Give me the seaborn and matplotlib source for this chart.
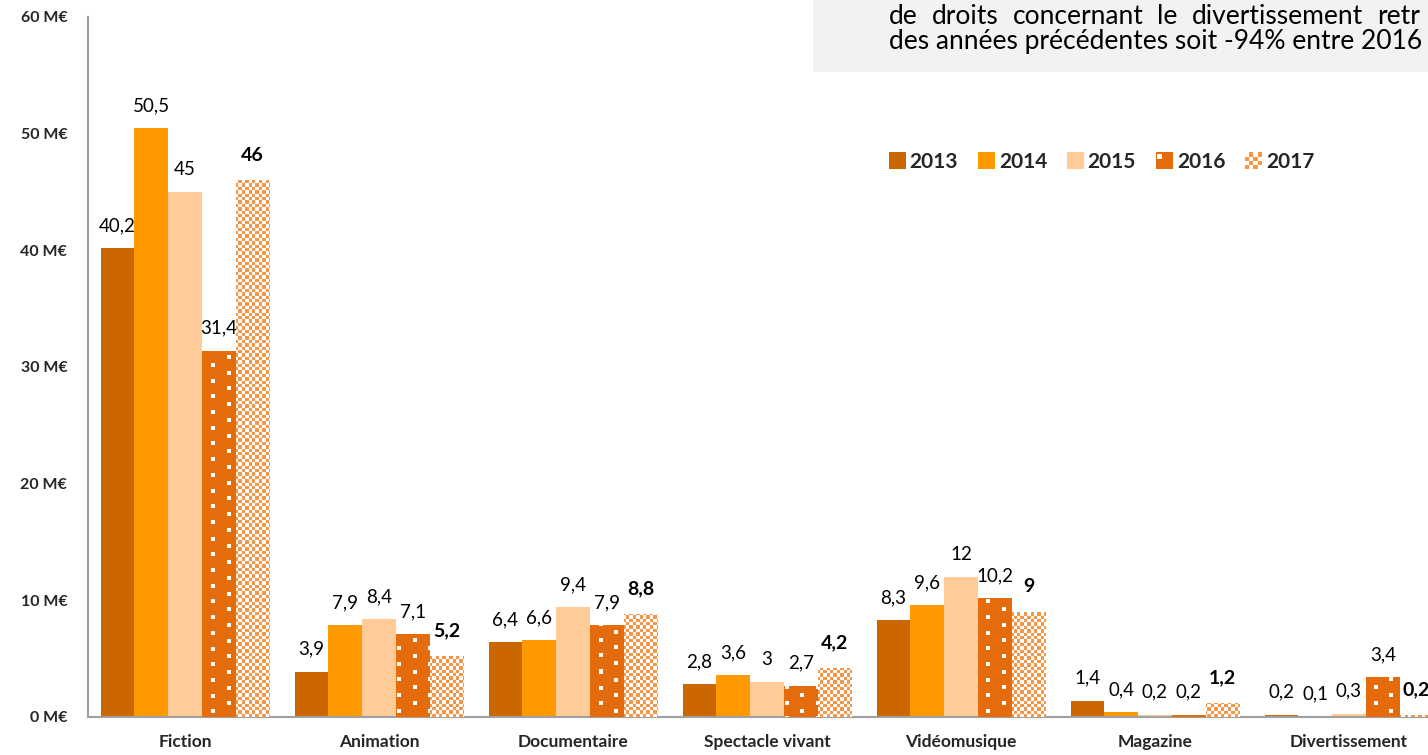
import numpy as np
import pandas as pd
import matplotlib
matplotlib.use("Agg")
import matplotlib.pyplot as plt
import seaborn as sns
from matplotlib.patches import Rectangle
from matplotlib.legend_handler import HandlerBase

categories = ["Fiction", "Animation", "Documentaire", "Spectacle vivant",
              "Vidéomusique", "Magazine", "Divertissement"]
years = ["2013", "2014", "2015", "2016", "2017"]
v2013 = [40.2, 3.9, 6.4, 2.8, 8.3, 1.4, 0.2]
v2014 = [50.5, 7.9, 6.6, 3.6, 9.6, 0.4, 0.1]
v2015 = [45.0, 8.4, 9.4, 3.0, 12.0, 0.2, 0.3]
v2016 = [31.4, 7.1, 7.9, 2.7, 10.2, 0.2, 3.4]
v2017 = [46.0, 5.2, 8.8, 4.2, 9.0, 1.2, 0.2]
yticks = [0, 10, 20, 30, 40, 50, 60]
ytick_labels = ["0 M€", "10 M€", "20 M€", "30 M€", "40 M€", "50 M€", "60 M€"]
note_line1 = "de droits concernant le divertissement retr"
note_line2 = "des années précédentes soit -94% entre 2016"

colors = {"2013": "#CC6600", "2014": "#FF9900", "2015": "#FFCC99",
          "2016": "#E46C0A", "2017": "#F79646"}

sns.set_style("white")
plt.rcParams["font.family"] = ["Lato", "DejaVu Sans"]

series = [v2013, v2014, v2015, v2016, v2017]
df = pd.DataFrame({
    "cat": np.repeat([categories], len(years), axis=0).ravel(),
    "year": np.repeat(years, len(categories)),
    "val": np.concatenate(series),
})

W, H = 1428, 755
fig = plt.figure(figsize=(W / 100, H / 100), dpi=100)
ax = fig.add_axes([88 / W, 38 / H, 1358 / W, 700 / H])
ax.patch.set_visible(False)

sns.barplot(data=df, x="cat", y="val", hue="year", hue_order=years,
            order=categories, palette=colors, saturation=1, width=0.87,
            gap=0, errorbar=None, linewidth=0, legend=False, ax=ax)

ax.set_xlim(-0.5, 6.5)
ax.set_ylim(0, 60)
ax.set_yticks(yticks)
ax.set_yticklabels(ytick_labels, fontsize=11.5, fontweight="bold")
ax.tick_params(axis="y", length=0, pad=15)
ax.tick_params(axis="x", length=0, pad=12, labelsize=12.5)
for lab in ax.get_xticklabels():
    lab.set_fontweight("bold")
ax.set_xlabel("")
ax.set_ylabel("")
for s in ["top", "right"]:
    ax.spines[s].set_visible(False)
for s in ["left", "bottom"]:
    ax.spines[s].set_color("#a0a0a0")
    ax.spines[s].set_linewidth(1.5)

# data labels
for i, cont in enumerate(ax.containers):
    labs = [f"{v:g}".replace(".", ",") for v in series[i]]
    bold = (i == 4)
    ax.bar_label(cont, labels=labs, padding=12 if bold else 10,
                 fontsize=14 if bold else 13.5,
                 fontweight="bold" if bold else "normal", color="#000000")

# patterns (2016 dots, 2017 checkerboard) drawn clipped to the bars
fig.canvas.draw()
orange16 = np.array(matplotlib.colors.to_rgb(colors["2016"]))
orange17 = np.array(matplotlib.colors.to_rgb(colors["2017"]))
white = np.array([1.0, 1.0, 1.0])


def bar_pixels(bar):
    x0, y0 = bar.get_x(), bar.get_y()
    x1, y1 = x0 + bar.get_width(), y0 + bar.get_height()
    (px0, py0), (px1, py1) = ax.transData.transform([(x0, y0), (x1, y1)])
    return x0, x1, y0, y1, px0, px1, py0, py1


for idx in (3, 4):
    for bar in ax.containers[idx]:
        x0, x1, y0, y1, px0, px1, py0, py1 = bar_pixels(bar)
        wpx = max(int(round(px1 - px0)), 1)
        hpx = max(int(round(py1 - py0)), 1)
        gx = px0 + np.arange(wpx) + 0.5
        gy = py1 - np.arange(hpx) - 0.5
        GX, GY = np.meshgrid(gx, gy)
        if idx == 3:
            k = np.floor((GX - 211) / 15.5)
            dx = (GX - 211) - k * 15.5
            dy = np.mod(GY - py0 - 4 - 7.85 * (k % 2), 15.7)
            mask = (dx < 4) & (dy < 4)
            img = np.where(mask[..., None], white, orange16)
        else:
            c = (np.floor(GX / 3.4) + np.floor(GY / 3.4)) % 2
            img = np.where((c == 0)[..., None], orange17, white)
        im = ax.imshow(img, extent=(x0, x1, y0, y1), aspect="auto",
                       interpolation="nearest", origin="upper", zorder=3)
        im.set_clip_path(bar)

ax.set_xlim(-0.5, 6.5)
ax.set_ylim(0, 60)


# legend
class CheckerHandler(HandlerBase):
    def create_artists(self, legend, orig_handle, xdescent, ydescent,
                       width, height, fontsize, trans):
        n = 4
        s = height * 1.15
        x0 = -xdescent + (width - s) / 2
        y0 = -ydescent + (height - s) / 2
        cell = s / n
        arts = []
        for i in range(n):
            for j in range(n):
                col = colors["2017"] if (i + j) % 2 == 0 else "white"
                arts.append(Rectangle((x0 + i * cell, y0 + j * cell), cell, cell,
                                      facecolor=col, edgecolor="none",
                                      transform=trans))
        return arts


class SquareHandler(HandlerBase):
    def __init__(self, color, dot=False):
        super().__init__()
        self.color = color
        self.dot = dot

    def create_artists(self, legend, orig_handle, xdescent, ydescent,
                       width, height, fontsize, trans):
        s = height * 1.15
        x0 = -xdescent + (width - s) / 2
        y0 = -ydescent + (height - s) / 2
        arts = [Rectangle((x0, y0), s, s, facecolor=self.color,
                          edgecolor="none", transform=trans)]
        if self.dot:
            d = s * 0.3
            arts.append(Rectangle((x0 + s * 0.08, y0 + s - d - s * 0.08), d, d,
                                  facecolor="white", edgecolor="none",
                                  transform=trans))
        return arts


handles = [Rectangle((0, 0), 1, 1) for _ in years]
hmap = {handles[0]: SquareHandler(colors["2013"]),
        handles[1]: SquareHandler(colors["2014"]),
        handles[2]: SquareHandler(colors["2015"]),
        handles[3]: SquareHandler(colors["2016"], dot=True),
        handles[4]: CheckerHandler()}
leg = fig.legend(handles, years, handler_map=hmap, loc="center left",
                 bbox_to_anchor=(891 / W, 1 - 162 / H), ncol=5, frameon=False,
                 handlelength=0.6, handleheight=0.7, handletextpad=0.3,
                 columnspacing=1.05, borderpad=0, borderaxespad=0,
                 prop={"weight": "bold", "size": 15})

# note box
fig.add_artist(Rectangle((813 / W, 1 - 72 / H), 1, 1, transform=fig.transFigure,
                         facecolor="#f2f2f2", edgecolor="none", zorder=0))
renderer = fig.canvas.get_renderer()
fs_note = 19
x = 889
for w in note_line1.split(" "):
    t = fig.text(x / W, 1 - 24 / H, w, fontsize=fs_note, va="baseline",
                 ha="left", color="#000000")
    bb = t.get_window_extent(renderer)
    x = bb.x1 + 14
fig.text(889 / W, 1 - 49 / H, note_line2, fontsize=fs_note, va="baseline",
         ha="left", color="#000000")

fig.savefig("out.png", dpi=100)
